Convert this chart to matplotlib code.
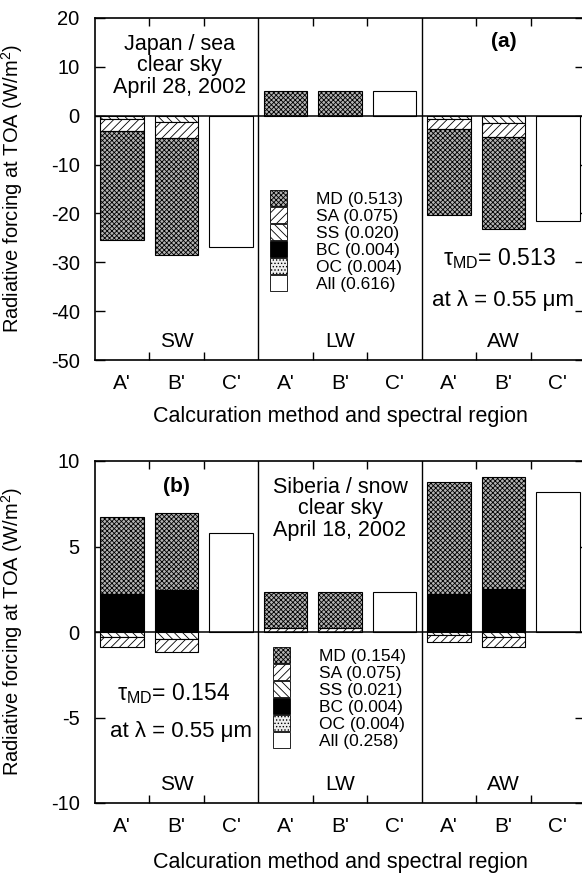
import numpy as np
import matplotlib
matplotlib.use('Agg')
import matplotlib.pyplot as plt
from matplotlib.patches import Patch

plt.rcParams['font.family'] = ['Liberation Sans', 'DejaVu Sans']
plt.rcParams['mathtext.fontset'] = 'custom'
plt.rcParams['mathtext.rm'] = 'Liberation Sans'
plt.rcParams['mathtext.it'] = 'Liberation Sans:italic'
plt.rcParams['mathtext.bf'] = 'Liberation Sans:bold'
plt.rcParams['axes.unicode_minus'] = False
plt.rcParams['hatch.linewidth'] = 0.6

methods = ["A'", "B'", "C'"] * 3
regions = ['SW', 'LW', 'AW']

# (a) Japan / sea, W/m2
md_a = [-22.4, -24.0, 0, 5.1, 5.1, 0, -17.5, -18.95, 0]
sa_a = [-2.3, -3.15, 0, 0, 0, 0, -2.05, -2.9, 0]
ss_a = [-0.75, -1.35, 0, 0, 0, 0, -0.75, -1.4, 0]
bc_a = [0, 0, 0, 0, 0, 0, 0, 0, 0]
oc_a = [0, 0, 0, 0, 0, 0, 0, 0, 0]
all_a = [0, 0, -26.8, 0, 0, 5.1, 0, 0, -21.5]
tau_a = ['0.513', '0.075', '0.020', '0.004', '0.004', '0.616']

# (b) Siberia / snow, W/m2
md_b = [4.5, 4.5, 0, 2.1, 2.1, 0, 6.6, 6.55, 0]
sa_b = [-0.55, -0.72, 0, 0.22, 0.22, 0, -0.39, -0.55, 0]
ss_b = [-0.3, -0.43, 0, 0, 0, 0, -0.18, -0.31, 0]
bc_b = [2.2, 2.45, 0, 0, 0, 0, 2.2, 2.5, 0]
oc_b = [0, 0, 0, 0, 0, 0, 0, 0, 0]
all_b = [0, 0, 5.77, 0, 0, 2.36, 0, 0, 8.2]
tau_b = ['0.154', '0.075', '0.021', '0.004', '0.004', '0.258']

names = ['MD', 'SA', 'SS', 'BC', 'OC', 'All']
styles = {
    'MD': dict(facecolor='#b4b4b4', hatch='xxxxxxx'),
    'SA': dict(facecolor='white', hatch='////'),
    'SS': dict(facecolor='white', hatch='\\\\\\\\'),
    'BC': dict(facecolor='black', hatch=None),
    'OC': dict(facecolor='#eeeeee', hatch='.....'),
    'All': dict(facecolor='white', hatch=None),
}
pos_order = ['BC', 'SA', 'SS', 'OC', 'MD', 'All']
neg_order = ['SS', 'SA', 'BC', 'OC', 'MD', 'All']

x = np.arange(9) + 0.5
width = 0.8


def draw_panel(ax, comps, ylim, yticks, tau):
    pos = np.zeros(9)
    neg = np.zeros(9)
    for name in pos_order:
        v = np.clip(np.array(comps[name], float), 0, None)
        m = v > 0
        if m.any():
            ax.bar(x[m], v[m], width, bottom=pos[m], edgecolor='black',
                   linewidth=0.8, zorder=2, **styles[name])
            pos += v
    for name in neg_order:
        v = np.clip(np.array(comps[name], float), None, 0)
        m = v < 0
        if m.any():
            ax.bar(x[m], v[m], width, bottom=neg[m], edgecolor='black',
                   linewidth=0.8, zorder=2, **styles[name])
            neg += v

    ax.axhline(0, color='black', lw=1.1, zorder=3)
    for d in (3, 6):
        ax.axvline(d, color='black', lw=1.0, zorder=3)

    ax.set_xlim(0, 9)
    ax.set_ylim(*ylim)
    ax.set_yticks(yticks)
    ax.set_xticks(x)
    ax.set_xticklabels(methods, fontsize=15)
    ax.set_xticks([1, 2, 4, 5, 7, 8], minor=True)
    ax.tick_params(axis='x', which='major', length=0, pad=10)
    ax.tick_params(axis='x', which='minor', direction='in', length=6,
                   width=1.0, top=True, bottom=True)
    ax.tick_params(axis='y', direction='in', length=7, width=1.0,
                   left=True, right=True, labelsize=14.5, pad=11)
    for s in ax.spines.values():
        s.set_linewidth(1.2)

    ax.set_ylabel('Radiative forcing at TOA (W/m$^2$)', fontsize=14.5)
    ax.yaxis.set_label_coords(-0.143, 0.5)
    ax.set_xlabel('Calcuration method and spectral region', fontsize=15.5)

    trans = ax.get_xaxis_transform()
    for i, r in enumerate(regions):
        ax.text(1.5 + 3 * i, 0.055, r, transform=trans, ha='center',
                va='center', fontsize=15)

    handles = [Patch(edgecolor='black', linewidth=0.6, **styles[n])
               for n in names]
    labels = ['%s (%s)' % (n, t) for n, t in zip(names, tau)]
    return handles, labels


fig = plt.figure(figsize=(5.82, 8.73), dpi=100)
W, H = 582.0, 873.0
ax1 = fig.add_axes([95 / W, 1 - 360 / H, 490 / W, 342 / H])
ax2 = fig.add_axes([95 / W, 1 - 803 / H, 490 / W, 342 / H])

comps_a = dict(MD=md_a, SA=sa_a, SS=ss_a, BC=bc_a, OC=oc_a, All=all_a)
comps_b = dict(MD=md_b, SA=sa_b, SS=ss_b, BC=bc_b, OC=oc_b, All=all_b)

leg_kw = dict(loc='upper left', frameon=False, fontsize=12.5,
              handlelength=0.98, handleheight=1.04, labelspacing=0.0,
              handletextpad=1.65, borderpad=0, borderaxespad=0)

h, l = draw_panel(ax1, comps_a, (-50, 20), np.arange(-50, 21, 10), tau_a)
ax1.xaxis.set_label_coords(0.5, -0.135)
ax1.legend(h, l, bbox_to_anchor=(0.357, 0.497), **leg_kw)
t1 = ax1.get_xaxis_transform()
ax1.text(1.55, 0.86, 'Japan / sea\nclear sky\nApril 28, 2002',
         transform=t1, ha='center', va='center', fontsize=15.5,
         linespacing=1.03)
ax1.text(7.5, 0.93, '(a)', transform=t1, ha='center', va='center',
         fontsize=15, fontweight='bold')
ax1.text(7.43, 0.298, r'$\mathrm{\tau}_{\mathrm{MD}}$= 0.513', transform=t1,
         ha='center', va='center', fontsize=16.5)
ax1.text(7.5, 0.175, 'at λ = 0.55 μm', transform=t1, ha='center',
         va='center', fontsize=16)

h, l = draw_panel(ax2, comps_b, (-10, 10), np.arange(-10, 11, 5), tau_b)
ax2.xaxis.set_label_coords(0.5, -0.144)
ax2.legend(h, l, bbox_to_anchor=(0.363, 0.456), **leg_kw)
t2 = ax2.get_xaxis_transform()
ax2.text(4.5, 0.86, 'Siberia / snow\nclear sky\nApril 18, 2002',
         transform=t2, ha='center', va='center', fontsize=15.5,
         linespacing=1.03)
ax2.text(1.5, 0.924, '(b)', transform=t2, ha='center', va='center',
         fontsize=15, fontweight='bold')
ax2.text(1.45, 0.32, r'$\mathrm{\tau}_{\mathrm{MD}}$= 0.154', transform=t2,
         ha='center', va='center', fontsize=16.5)
ax2.text(1.58, 0.21, 'at λ = 0.55 μm', transform=t2, ha='center',
         va='center', fontsize=16)

fig.savefig('out.png', dpi=100)
